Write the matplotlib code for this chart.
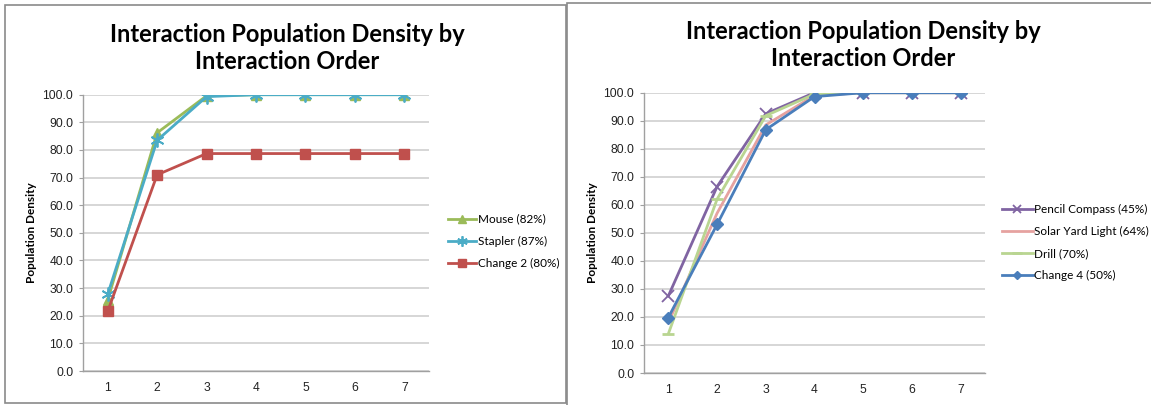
import matplotlib
matplotlib.use('Agg')
import matplotlib.pyplot as plt
from matplotlib.patches import Rectangle

# data
order = [1, 2, 3, 4, 5, 6, 7]

mouse = [25.7, 86.2, 99.6, 100.0, 100.0, 100.0, 100.0]
stapler = [27.8, 83.5, 99.3, 100.0, 100.0, 100.0, 100.0]
change2 = [21.6, 71.0, 78.7, 78.7, 78.7, 78.7, 78.7]

pencil = [27.5, 66.5, 92.5, 100.0, 100.0, 100.0, 100.0]
solar = [18.0, 57.0, 88.5, 99.0, 100.0, 100.0, 100.0]
drill = [14.0, 62.0, 91.8, 99.5, 100.0, 100.0, 100.0]
change4 = [19.8, 53.0, 86.8, 98.6, 100.0, 100.0, 100.0]

yticks = [0, 10, 20, 30, 40, 50, 60, 70, 80, 90, 100]
title = 'Interaction Population Density by\nInteraction Order'

W, H = 1151, 405
fig = plt.figure(figsize=(W / 100, H / 100), dpi=100)
fig.patch.set_facecolor('white')


def fx(px):
    return px / W


def fy(py):
    return 1 - py / H


def style_axes(ax):
    ax.set_xlim(0.5, 7.5)
    ax.set_ylim(0, 100)
    ax.set_yticks(yticks)
    ax.set_yticklabels(['{:.1f}'.format(v) for v in yticks])
    ax.set_xticks(order)
    ax.grid(axis='y', color='#D0D0D0', lw=1.2)
    ax.set_axisbelow(True)
    for s in ['top', 'right']:
        ax.spines[s].set_visible(False)
    for s in ['left', 'bottom']:
        ax.spines[s].set_color('#A0A0A0')
        ax.spines[s].set_linewidth(1)
    ax.tick_params(axis='y', length=3, color='#A0A0A0', labelsize=8.7, pad=4,
                   labelcolor='#222222')
    ax.tick_params(axis='x', length=0, labelsize=8.7, pad=8, labelcolor='#222222')
    for lab in ax.get_xticklabels() + ax.get_yticklabels():
        lab.set_fontfamily('Liberation Sans')
    ax.set_ylabel('Population Density', fontsize=8.5, fontweight='bold',
                  family='Lato', labelpad=4)


# left chart
ax1 = fig.add_axes([fx(83), fy(371), fx(429 - 83), (371 - 94.7) / H])
ax1.plot(order, mouse, color='#9BBB59', lw=2, marker='^', ms=7, label='Mouse (82%)')
ax1.plot(order, stapler, color='#4BACC6', lw=2, marker=(6, 2, 0), ms=10, mew=1.3,
         label='Stapler (87%)')
ax1.plot(order, change2, color='#C0504D', lw=2, marker='s', ms=7, label='Change 2 (80%)')
style_axes(ax1)

# right chart
ax2 = fig.add_axes([fx(644), fy(373), fx(985 - 644), (373 - 92.7) / H])
ax2.plot(order, pencil, color='#8064A2', lw=2, marker='x', ms=8, mew=1.3,
         label='Pencil Compass (45%)')
ax2.plot(order, solar, color='#E6A2A0', lw=2, label='Solar Yard Light (64%)')
ax2.plot(order, drill, color='#B9D591', lw=2, marker='_', ms=9, mew=2,
         label='Drill (70%)')
ax2.plot(order, change4, color='#4A7EBB', lw=2, marker='D', ms=6,
         label='Change 4 (50%)')
style_axes(ax2)

# titles
fig.text(fx(287), fy(48), title, ha='center', va='center', fontsize=17,
         fontweight='bold', family='Lato', linespacing=1.25)
fig.text(fx(863), fy(45), title, ha='center', va='center', fontsize=17,
         fontweight='bold', family='Lato', linespacing=1.25)

# legends
h1, l1 = ax1.get_legend_handles_labels()
fig.legend(h1, l1, loc='center left', bbox_to_anchor=(fx(448), fy(241.5)),
           frameon=False, prop={'family': 'Lato', 'size': 8.5},
           handlelength=2.4, handletextpad=0.15, labelspacing=0.95,
           borderpad=0, borderaxespad=0, markerscale=0.75)
h2, l2 = ax2.get_legend_handles_labels()
fig.legend(h2, l2, loc='center left', bbox_to_anchor=(fx(1002), fy(242.5)),
           frameon=False, prop={'family': 'Lato', 'size': 8.5},
           handlelength=2.6, handletextpad=0.15, labelspacing=0.95,
           borderpad=0, borderaxespad=0, markerscale=0.75)

# chart frames
fig.add_artist(Rectangle((fx(5), fy(403)), fx(566 - 5), (403 - 5) / H,
                         transform=fig.transFigure, fill=False,
                         edgecolor='#8A8A8A', lw=1.2))
fig.add_artist(Rectangle((fx(566.5), fy(410)), fx(600), (410 - 2.7) / H,
                         transform=fig.transFigure, fill=False,
                         edgecolor='#8A8A8A', lw=1.2))

fig.savefig('out.png', dpi=100, facecolor='white')
